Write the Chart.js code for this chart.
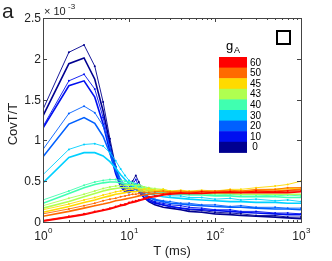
<!DOCTYPE html>
<html>
<head>
<meta charset="utf-8">
<script src="https://cdn.jsdelivr.net/npm/chart.js@4"></script>
<style>
  html, body { margin: 0; padding: 0; background: #fff; }
  #wrap { width: 332px; height: 261px; }
</style>
</head>
<body>
<div id="wrap"><canvas id="myChart" width="332" height="261"></canvas></div>
<script>
// time lags (ms)
const T = [1, 2, 3, 4, 5, 6, 7, 8, 9, 10, 11, 12, 13, 15, 17, 20, 25, 30, 40, 50, 70, 100, 150, 200, 300, 500, 700, 1000];

// gA levels and their colours (legend order top -> bottom)
const gA = [60, 50, 45, 43, 40, 30, 20, 10, 0];
const gColors = ['#ff0000', '#ff6a00', '#ffda00', '#b0ff50', '#40ffb0', '#00d0ff', '#0060ff', '#0010f0', '#000090'];

// CovT/T (x 10^-3), simulated (thin, dotted) and fitted (thick)
const sim60 = [0.02,0.07,0.10,0.13,0.15,0.17,0.19,0.21,0.22,0.24,0.25,0.26,0.27,0.29,0.31,0.32,0.34,0.35,0.36,0.35,0.37,0.36,0.37,0.36,0.38,0.37,0.38,0.38];
const fit60 = [0.01,0.06,0.09,0.12,0.14,0.16,0.18,0.20,0.21,0.23,0.24,0.25,0.26,0.28,0.30,0.31,0.33,0.34,0.35,0.35,0.35,0.36,0.36,0.36,0.36,0.36,0.36,0.37];
const sim50 = [0.10,0.16,0.20,0.23,0.26,0.28,0.29,0.31,0.32,0.33,0.34,0.34,0.35,0.36,0.36,0.37,0.38,0.37,0.38,0.37,0.38,0.38,0.39,0.38,0.40,0.40,0.42,0.42];
const fit50 = [0.07,0.13,0.17,0.20,0.22,0.24,0.26,0.27,0.28,0.29,0.30,0.31,0.32,0.33,0.34,0.35,0.35,0.36,0.36,0.36,0.37,0.37,0.37,0.37,0.38,0.38,0.39,0.40];
const sim45 = [0.15,0.22,0.27,0.30,0.33,0.35,0.37,0.38,0.39,0.40,0.40,0.41,0.40,0.40,0.41,0.39,0.40,0.38,0.39,0.38,0.39,0.38,0.40,0.40,0.42,0.44,0.46,0.50];
const fit45 = [0.12,0.19,0.24,0.27,0.30,0.32,0.34,0.35,0.36,0.37,0.37,0.37,0.38,0.38,0.38,0.38,0.38,0.37,0.37,0.37,0.37,0.37,0.38,0.38,0.39,0.40,0.41,0.42];
const sim43 = [0.20,0.29,0.34,0.38,0.41,0.43,0.44,0.45,0.45,0.45,0.46,0.44,0.45,0.43,0.42,0.41,0.40,0.38,0.38,0.37,0.37,0.36,0.37,0.36,0.37,0.37,0.38,0.38];
const fit43 = [0.17,0.25,0.31,0.35,0.38,0.40,0.41,0.42,0.42,0.42,0.42,0.42,0.41,0.41,0.40,0.39,0.38,0.37,0.36,0.36,0.35,0.35,0.35,0.34,0.34,0.34,0.34,0.34];
const sim40 = [0.27,0.38,0.45,0.49,0.51,0.52,0.52,0.51,0.50,0.49,0.48,0.46,0.46,0.43,0.42,0.39,0.38,0.36,0.36,0.34,0.35,0.33,0.34,0.33,0.33,0.32,0.33,0.32];
const fit40 = [0.23,0.35,0.42,0.46,0.48,0.49,0.49,0.48,0.47,0.46,0.45,0.44,0.43,0.41,0.39,0.38,0.36,0.35,0.34,0.33,0.33,0.32,0.32,0.31,0.31,0.31,0.30,0.30];
const sim30 = [0.58,0.89,0.95,0.96,0.93,0.85,0.75,0.65,0.57,0.51,0.48,0.46,0.43,0.40,0.38,0.36,0.35,0.32,0.32,0.30,0.30,0.28,0.29,0.27,0.28,0.26,0.27,0.25];
const fit30 = [0.48,0.79,0.85,0.85,0.81,0.74,0.66,0.58,0.52,0.47,0.44,0.42,0.40,0.37,0.35,0.33,0.31,0.30,0.29,0.28,0.27,0.26,0.25,0.25,0.24,0.24,0.23,0.23];
const sim20 = [0.89,1.33,1.42,1.34,1.18,0.92,0.68,0.52,0.45,0.42,0.45,0.47,0.42,0.36,0.31,0.28,0.26,0.25,0.23,0.23,0.21,0.21,0.19,0.20,0.18,0.18,0.17,0.17];
const fit20 = [0.80,1.20,1.28,1.21,1.05,0.84,0.63,0.49,0.43,0.40,0.40,0.40,0.38,0.34,0.30,0.27,0.25,0.23,0.22,0.21,0.20,0.19,0.18,0.18,0.17,0.16,0.16,0.15];
const sim10 = [1.17,1.73,1.81,1.63,1.28,0.92,0.62,0.45,0.38,0.39,0.46,0.52,0.44,0.33,0.28,0.25,0.23,0.21,0.20,0.18,0.17,0.15,0.15,0.13,0.13,0.11,0.11,0.10];
const fit10 = [1.15,1.67,1.73,1.53,1.20,0.86,0.59,0.43,0.37,0.36,0.39,0.41,0.37,0.30,0.26,0.23,0.21,0.19,0.17,0.16,0.15,0.14,0.13,0.12,0.11,0.10,0.09,0.09];
const sim0  = [1.38,2.08,2.17,1.91,1.47,1.02,0.68,0.47,0.40,0.42,0.50,0.57,0.49,0.34,0.28,0.24,0.21,0.19,0.17,0.15,0.14,0.12,0.11,0.10,0.08,0.08,0.06,0.06];
const fit0  = [1.30,1.94,2.01,1.75,1.36,0.96,0.64,0.45,0.38,0.37,0.40,0.42,0.38,0.30,0.25,0.21,0.18,0.17,0.15,0.13,0.12,0.10,0.09,0.08,0.07,0.06,0.05,0.04];

const simSets = [sim60, sim50, sim45, sim43, sim40, sim30, sim20, sim10, sim0];
const fitSets = [fit60, fit50, fit45, fit43, fit40, fit30, fit20, fit10, fit0];

const yTicks = [0, 0.5, 1, 1.5, 2, 2.5];
const xDecades = [1, 10, 100, 1000];

const datasets = [];
gA.forEach((g, i) => {
  datasets.push({
    label: 'sim ' + g,
    data: T.map((t, k) => ({x: t, y: simSets[i][k]})),
    borderColor: gColors[i],
    backgroundColor: gColors[i],
    borderWidth: 0.9,
    pointRadius: 1,
    pointBorderWidth: 0,
    tension: 0
  });
  datasets.push({
    label: 'fit ' + g,
    data: T.map((t, k) => ({x: t, y: fitSets[i][k]})),
    borderColor: gColors[i],
    borderWidth: 1.6,
    pointRadius: 0,
    tension: 0
  });
});

const font = '"Liberation Sans", Arial, sans-serif';

const decor = {
  id: 'decor',
  afterDraw(chart) {
    const {ctx, chartArea: {left, right, top, bottom}, scales: {x, y}} = chart;
    ctx.save();
    // frame
    ctx.strokeStyle = '#444';
    ctx.lineWidth = 1;
    ctx.strokeRect(left + 0.5, top + 0.5, right - left, bottom - top);
    // y ticks (inside, both sides)
    ctx.fillStyle = '#222';
    ctx.font = '12px ' + font;
    ctx.textAlign = 'right';
    ctx.textBaseline = 'middle';
    yTicks.forEach(v => {
      const py = Math.round(y.getPixelForValue(v)) + 0.5;
      ctx.beginPath();
      ctx.moveTo(left, py); ctx.lineTo(left + 4, py);
      ctx.moveTo(right, py); ctx.lineTo(right - 4, py);
      ctx.stroke();
      ctx.fillText(String(v), left - 2, py);
    });
    // x ticks, major and minor
    xDecades.forEach((d, i) => {
      for (let m = 1; m <= 9; m++) {
        const v = d * m;
        if (v > 1000) break;
        const px = Math.round(x.getPixelForValue(v)) + 0.5;
        const len = m === 1 ? 4 : 2;
        ctx.beginPath();
        ctx.moveTo(px, bottom); ctx.lineTo(px, bottom - len);
        ctx.moveTo(px, top); ctx.lineTo(px, top + len);
        ctx.stroke();
      }
      const px = x.getPixelForValue(d);
      ctx.textAlign = 'center';
      ctx.textBaseline = 'alphabetic';
      ctx.font = '12px ' + font;
      ctx.fillText('10', px - 2, bottom + 18);
      ctx.font = '8px ' + font;
      ctx.textAlign = 'left';
      ctx.fillText(String(i), px + 5, bottom + 11);
    });
    // axis titles
    ctx.font = '13px ' + font;
    ctx.textAlign = 'center';
    ctx.fillText('T (ms)', (left + right) / 2, bottom + 33);
    ctx.save();
    ctx.translate(17, (top + bottom) / 2 + 4);
    ctx.rotate(-Math.PI / 2);
    ctx.fillText('CovT/T', 0, 0);
    ctx.restore();
    // exponent
    ctx.textAlign = 'left';
    ctx.font = '11px ' + font;
    ctx.fillText('\u00d7 10', left + 1, top - 3);
    ctx.font = '8px ' + font;
    ctx.fillText('-3', left + 25, top - 9);
    // panel letter
    ctx.font = '21px ' + font;
    ctx.fillText('a', 2, 18);
    // small square
    ctx.lineWidth = 2;
    ctx.strokeStyle = '#000';
    ctx.strokeRect(277, 31, 13, 13);
    // colour bar legend
    const bx = 219, bw = 28, by = 57, bh = 10.6;
    ctx.font = '13px ' + font;
    ctx.fillStyle = '#000';
    ctx.fillText('g', 226, 50);
    ctx.font = '9px ' + font;
    ctx.fillText('A', 234, 53);
    ctx.font = '10px ' + font;
    gA.forEach((g, i) => {
      ctx.fillStyle = gColors[i];
      ctx.fillRect(bx, by + i * bh, bw, bh + 0.5);
      ctx.fillStyle = '#000';
      ctx.textBaseline = 'middle';
      ctx.textAlign = g === 0 ? 'center' : 'left';
      ctx.fillText(String(g), g === 0 ? bx + bw + 8 : bx + bw + 3, by + i * bh + bh / 2 + 0.5);
      ctx.textAlign = 'left';
    });
    ctx.restore();
  }
};

new Chart(document.getElementById('myChart'), {
  type: 'line',
  data: {datasets: datasets},
  options: {
    responsive: false,
    animation: false,
    layout: {padding: {left: 43, right: 31, top: 18, bottom: 39}},
    plugins: {legend: {display: false}, tooltip: {enabled: false}},
    scales: {
      x: {type: 'logarithmic', min: 1, max: 1000, display: false},
      y: {type: 'linear', min: 0, max: 2.5, display: false}
    }
  },
  plugins: [decor]
});
</script>
</body>
</html>
